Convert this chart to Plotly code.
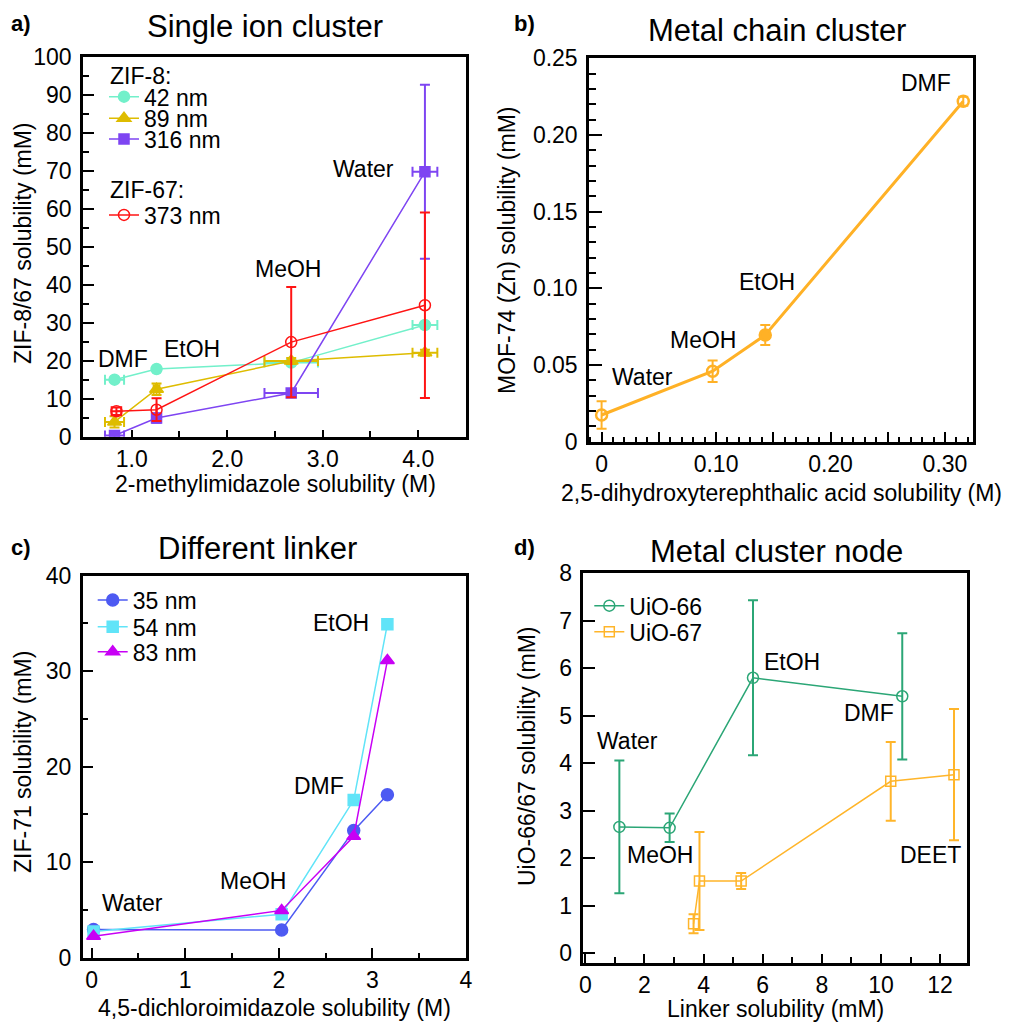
import plotly.graph_objects as go

W, H = 1016, 1023
FONT = "Liberation Sans, Arial, sans-serif"

# ---------------- data ----------------
# Panel a: ZIF-8 / ZIF-67 vs 2-methylimidazole solubility (M)
a_x = [0.82, 1.26, 2.67, 4.07]
a_xerr = [0.10, 0.03, 0.28, 0.13]
a_42_y = [15.0, 17.8, 19.5, 29.4]
a_42_yerr = [0.6, 0.6, 0.6, 0.8]
a_89_y = [3.9, 12.5, 19.9, 22.1]
a_89_yerr = [1.5, 1.5, 0.8, 0.8]
a_316_y = [0.3, 4.9, 11.5, 69.7]
a_316_yerr = [0.5, 1.2, 1.0, 22.9]
a_373_x = [0.84, 1.26, 2.67, 4.07]
a_373_xerr = [0.05, 0.0, 0.0, 0.0]
a_373_y = [6.7, 7.1, 24.9, 34.6]
a_373_yerr = [1.0, 3.0, 14.5, 24.4]
a_x_ticks = [1, 2, 3, 4]
a_x_ticktext = ["1.0", "2.0", "3.0", "4.0"]

# Panel b: MOF-74 (Zn)
b_x = [0.0, 0.097, 0.143, 0.316]
b_y = [0.0174, 0.046, 0.0696, 0.222]
b_yerr = [0.009, 0.007, 0.0065, 0.003]
b_x_ticks = [0, 0.05, 0.10, 0.15, 0.20, 0.25, 0.30]
b_x_ticktext = ["0", "", "0.10", "", "0.20", "", "0.30"]
b_y_ticks = [0, 0.05, 0.10, 0.15, 0.20, 0.25]
b_y_ticktext = ["0", "0.05", "0.10", "0.15", "0.20", "0.25"]

# Panel c: ZIF-71
c_x = [0.02, 2.03, 2.80, 3.16]
c_35_y = [2.95, 2.9, 13.3, 17.05]
c_54_y = [2.75, 4.55, 16.5, 34.9]
c_83_y = [2.25, 4.95, 12.7, 31.1]

# Panel d: UiO-66 / UiO-67
d66_x = [1.15, 2.85, 5.67, 10.72]
d66_y = [2.66, 2.64, 5.80, 5.41]
d66_err = [1.40, 0.30, 1.63, 1.33]
d67_x = [3.66, 3.86, 5.27, 10.33, 12.47]
d67_y = [0.62, 1.52, 1.52, 3.62, 3.76]
d67_err = [0.20, 1.03, 0.17, 0.83, 1.38]

# ---------------- helpers ----------------
def px(x):
    return x / W

def py(y):
    return 1 - y / H

C_AQUA = "#72F0CA"
C_GOLD = "#DEBC00"
C_PURP = "#7E45F2"
C_RED = "#FF1414"
C_ORNG = "#FFB126"
C_BLUE = "#4D5AF2"
C_CYAN = "#60E4F8"
C_MAG = "#C800F5"
C_GRN = "#2BA676"
C_ORN2 = "#FFB52A"

fig = go.Figure()


def add(x, y, color, symbol, size, name, xa, ya, legend, lw=1.5,
        yerr=None, xerr=None, mlw=1.5, showlegend=True):
    kw = {}
    if yerr is not None:
        kw["error_y"] = dict(type="data", array=yerr, visible=True,
                             color=color, thickness=2, width=5)
    if xerr is not None:
        kw["error_x"] = dict(type="data", array=xerr, visible=True,
                             color=color, thickness=2, width=5)
    fig.add_trace(go.Scatter(
        x=x, y=y, mode="lines+markers", name=name,
        line=dict(color=color, width=lw),
        marker=dict(color=color, symbol=symbol, size=size,
                    line=dict(color=color, width=mlw)),
        xaxis=xa, yaxis=ya, legend=legend, showlegend=showlegend, **kw))


# panel a
add(a_x, a_42_y, C_AQUA, "circle", 11, "42 nm", "x", "y", "legend",
    yerr=a_42_yerr, xerr=a_xerr)
add(a_x, a_89_y, C_GOLD, "triangle-up", 12, "89 nm", "x", "y", "legend2",
    yerr=a_89_yerr, xerr=a_xerr)
add(a_x, a_316_y, C_PURP, "square", 10, "316 nm", "x", "y", "legend3",
    yerr=a_316_yerr, xerr=a_xerr)
add(a_373_x, a_373_y, C_RED, "circle-open", 11, "373 nm", "x", "y", "legend4",
    yerr=a_373_yerr, xerr=a_373_xerr)

# panel b
add(b_x, b_y, C_ORNG, ["circle-open", "circle-open", "circle", "circle-open"],
    11, "MOF-74", "x2", "y2", "legend", lw=3, yerr=b_yerr, mlw=2.5,
    showlegend=False)

# panel c
add(c_x, c_35_y, C_BLUE, "circle", 12, "35 nm", "x3", "y3", "legend5")
add(c_x, c_54_y, C_CYAN, "square", 11, "54 nm", "x3", "y3", "legend6")
add(c_x, c_83_y, C_MAG, "triangle-up", 12, "83 nm", "x3", "y3", "legend7")

# panel d
add(d66_x, d66_y, C_GRN, "circle-open", 11, "UiO-66", "x4", "y4", "legend8",
    yerr=d66_err)
add(d67_x, d67_y, C_ORN2, "square-open", 10, "UiO-67", "x4", "y4", "legend9",
    yerr=d67_err)

# ---------------- axes ----------------
AX = dict(showgrid=False, zeroline=False, showline=True, linecolor="black",
          linewidth=2.5, mirror=True, ticks="inside", tickcolor="black",
          tickwidth=1.5, automargin=False,
          tickfont=dict(family=FONT, size=23, color="black"))


def axis(domain, rng, anchor, **extra):
    d = dict(AX)
    d.update(domain=domain, range=rng, anchor=anchor)
    d.update(extra)
    return d


MINOR = dict(ticks="inside", tickcolor="black", tickwidth=1.5)

fig.update_layout(
    xaxis=axis([px(83), px(466)], [0.49, 4.5], "y", tickvals=a_x_ticks,
               ticktext=a_x_ticktext, ticklen=7, ticklabelstandoff=0,
               minor=dict(dtick=0.5, tick0=0, ticklen=6, **MINOR)),
    yaxis=axis([py(436.7), py(56.7)], [0, 100], "x", dtick=10, tick0=0,
               ticklen=11, ticklabelstandoff=4,
               minor=dict(dtick=5, tick0=0, ticklen=6, **MINOR)),
    xaxis2=axis([px(589), px(973)], [-0.011, 0.3245], "y2",
                tickvals=b_x_ticks, ticktext=b_x_ticktext, ticklen=10,
                ticklabelstandoff=0,
                minor=dict(dtick=0.01, tick0=0, ticklen=5, **MINOR)),
    yaxis2=axis([py(441.7), py(58.3)], [0, 0.25], "x2",
                tickvals=b_y_ticks, ticktext=b_y_ticktext, ticklen=13,
                ticklabelstandoff=4,
                minor=dict(dtick=0.01, tick0=0, ticklen=7, **MINOR)),
    xaxis3=axis([px(82.7), px(466)], [-0.096, 4.0], "y3", dtick=1, tick0=0,
                ticklen=10, ticklabelstandoff=0,
                minor=dict(dtick=0.5, tick0=0, ticklen=5, **MINOR)),
    yaxis3=axis([py(957.7), py(575.5)], [0, 40], "x3", dtick=10, tick0=0,
                ticklen=11, ticklabelstandoff=4,
                minor=dict(dtick=5, tick0=0, ticklen=6, **MINOR)),
    xaxis4=axis([px(583.3), px(966.7)], [-0.07, 12.9], "y4", dtick=2, tick0=0,
                ticklen=9, ticklabelstandoff=0,
                minor=dict(dtick=1, tick0=0, ticklen=6, **MINOR)),
    yaxis4=axis([py(962.7), py(573.3)], [-0.2, 8.0], "x4", dtick=1, tick0=0,
                ticklen=12, ticklabelstandoff=4),
)

# ---------------- legends ----------------
LEG = dict(xanchor="left", yanchor="middle", bgcolor="rgba(0,0,0,0)",
           borderwidth=0, font=dict(family=FONT, size=23, color="black"),
           tracegroupgap=0)


def leg(xp, yp):
    d = dict(LEG)
    d.update(x=px(xp), y=py(yp))
    return d


fig.update_layout(
    legend=leg(104, 96.7),
    legend2=leg(104, 118.3),
    legend3=leg(104, 139),
    legend4=leg(104, 215),
    legend5=leg(92.7, 600),
    legend6=leg(92.7, 626.7),
    legend7=leg(92.7, 651.7),
    legend8=leg(589.3, 605.7),
    legend9=leg(589.3, 631.7),
)

# ---------------- text ----------------
anns = []


def text(t, xp, yp, size=23, xanchor="center", angle=0, bold=False):
    anns.append(dict(text=("<b>%s</b>" % t) if bold else t,
                     x=px(xp), y=py(yp), xref="paper", yref="paper",
                     xanchor=xanchor, yanchor="middle", showarrow=False,
                     textangle=angle,
                     font=dict(family=FONT, size=size, color="black")))


# titles and panel labels
text("Single ion cluster", 265, 27, size=31)
text("Metal chain cluster", 777, 31, size=31)
text("Different linker", 257, 548, size=31)
text("Metal cluster node", 776, 551, size=31)
text("a)", 21, 24, size=22, bold=True)
text("b)", 524, 24, size=22, bold=True)
text("c)", 21, 547, size=22, bold=True)
text("d)", 524, 547, size=22, bold=True)

# axis titles
text("ZIF-8/67 solubility (mM)", 23, 243, angle=-90)
text("2-methylimidazole solubility (M)", 275, 484)
text("MOF-74 (Zn) solubility (mM)", 507, 250, angle=-90)
text("2,5-dihydroxyterephthalic acid solubility (M)", 781, 493)
text("ZIF-71 solubility (mM)", 23, 762, angle=-90)
text("4,5-dichloroimidazole solubility (M)", 274, 1008)
text("UiO-66/67 solubility (mM)", 527, 757, angle=-90)
text("Linker solubility (mM)", 775, 1009)

# legend headers (panel a)
text("ZIF-8:", 108, 75.7, xanchor="left")
text("ZIF-67:", 108, 190.3, xanchor="left")

# solvent labels
text("DMF", 123.3, 359)
text("EtOH", 191.7, 349)
text("MeOH", 288, 268.7)
text("Water", 363.3, 169)

text("Water", 642.5, 376.7)
text("MeOH", 703, 340)
text("EtOH", 767, 281.7)
text("DMF", 926.3, 83.3)

text("Water", 132.2, 903.3)
text("MeOH", 252.8, 881.2)
text("DMF", 319, 785.8)
text("EtOH", 341, 622.5)

text("Water", 627.8, 741.3)
text("MeOH", 659.7, 855.3)
text("EtOH", 792, 662)
text("DMF", 869, 713)
text("DEET", 930.8, 855.3)

fig.update_layout(
    annotations=anns,
    width=W, height=H,
    margin=dict(l=0, r=0, t=0, b=0, pad=0, autoexpand=False),
    paper_bgcolor="white", plot_bgcolor="white",
    font=dict(family=FONT, color="black"),
)

fig.write_html("out.html")
